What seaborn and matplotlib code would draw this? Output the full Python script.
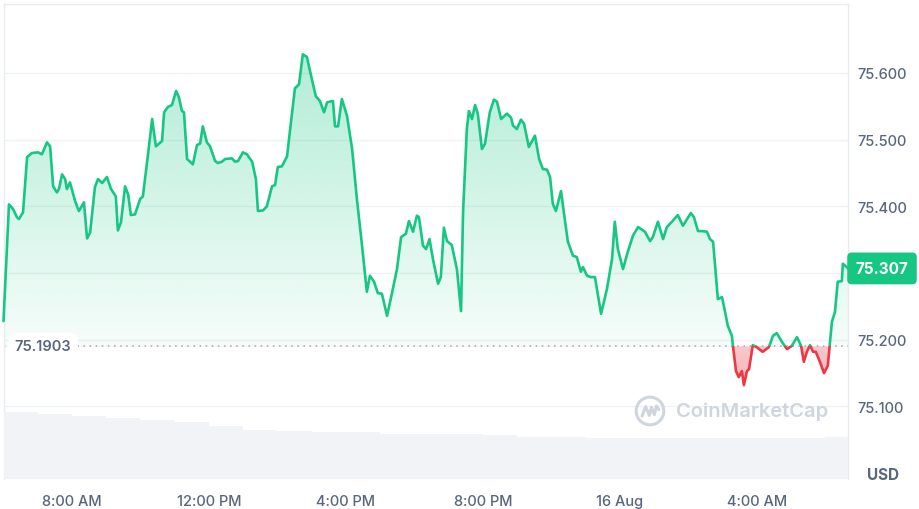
import numpy as np
import seaborn as sns
import matplotlib.pyplot as plt
import matplotlib.transforms as mtransforms
from matplotlib.patches import Polygon, Rectangle, Circle

# hours after 06:00 on 15 Aug
hours = [0.0, 0.16, 0.28, 0.39, 0.45, 0.57, 0.69, 0.83, 1.01, 1.12,
         1.27, 1.36, 1.45, 1.56, 1.62, 1.71, 1.80, 1.85, 1.94, 2.09,
         2.20, 2.35, 2.44, 2.53, 2.67, 2.76, 2.88, 3.02, 3.14, 3.28,
         3.34, 3.43, 3.55, 3.64, 3.72, 3.84, 3.99, 4.07, 4.22, 4.34,
         4.45, 4.63, 4.69, 4.80, 4.92, 5.04, 5.12, 5.21, 5.27, 5.36,
         5.53, 5.65, 5.74, 5.82, 5.94, 6.03, 6.18, 6.26, 6.38, 6.47,
         6.67, 6.76, 6.85, 6.99, 7.11, 7.26, 7.37, 7.43, 7.58, 7.69,
         7.84, 7.93, 8.01, 8.13, 8.28, 8.36, 8.51, 8.63, 8.74, 8.86,
         8.95, 9.12, 9.24, 9.36, 9.45, 9.62, 9.68, 9.77, 9.88, 10.03,
         10.18, 10.32, 10.47, 10.61, 10.70, 10.82, 10.93, 11.05, 11.20, 11.34,
         11.49, 11.61, 11.75, 11.84, 11.96, 12.07, 12.13, 12.25, 12.34, 12.44,
         12.54, 12.69, 12.77, 12.86, 12.95, 13.09, 13.24, 13.36, 13.42, 13.53,
         13.59, 13.68, 13.77, 13.85, 13.97, 14.06, 14.20, 14.32, 14.41, 14.53,
         14.70, 14.82, 14.88, 14.99, 15.11, 15.20, 15.34, 15.52, 15.64, 15.75,
         15.87, 15.96, 16.04, 16.13, 16.28, 16.36, 16.48, 16.63, 16.74, 16.86,
         16.92, 17.04, 17.15, 17.27, 17.45, 17.62, 17.77, 17.85, 17.94, 18.09,
         18.23, 18.38, 18.53, 18.73, 18.88, 18.96, 19.11, 19.26, 19.37, 19.52,
         19.69, 19.84, 19.96, 20.07, 20.16, 20.28, 20.39, 20.54, 20.63, 20.72,
         20.77, 20.86, 20.98, 21.07, 21.15, 21.27, 21.30, 21.39, 21.47, 21.56,
         21.62, 21.71, 21.77, 21.88, 21.99, 22.17, 22.35, 22.47, 22.58, 22.73,
         22.88, 23.02, 23.17, 23.29, 23.37, 23.46, 23.55, 23.64, 23.72, 23.84,
         23.96, 24.07, 24.19, 24.28, 24.36, 24.48, 24.51, 24.66]

prices = [75.228, 75.403, 75.396, 75.384, 75.381, 75.391, 75.474, 75.480, 75.481, 75.478,
          75.496, 75.490, 75.430, 75.421, 75.426, 75.448, 75.441, 75.426, 75.436, 75.408,
          75.393, 75.406, 75.352, 75.361, 75.429, 75.441, 75.435, 75.444, 75.426, 75.415,
          75.364, 75.376, 75.430, 75.418, 75.387, 75.388, 75.411, 75.415, 75.478, 75.531,
          75.490, 75.498, 75.541, 75.549, 75.552, 75.573, 75.564, 75.543, 75.541, 75.471,
          75.463, 75.492, 75.494, 75.520, 75.496, 75.490, 75.468, 75.465, 75.467, 75.471,
          75.472, 75.467, 75.468, 75.481, 75.478, 75.467, 75.441, 75.393, 75.394, 75.400,
          75.430, 75.432, 75.459, 75.460, 75.475, 75.511, 75.577, 75.583, 75.628, 75.624,
          75.603, 75.565, 75.558, 75.541, 75.556, 75.558, 75.520, 75.520, 75.561, 75.536,
          75.486, 75.411, 75.341, 75.272, 75.296, 75.287, 75.270, 75.269, 75.236, 75.269,
          75.306, 75.354, 75.359, 75.378, 75.362, 75.386, 75.384, 75.341, 75.336, 75.351,
          75.321, 75.284, 75.294, 75.368, 75.348, 75.342, 75.306, 75.243, 75.392, 75.516,
          75.543, 75.531, 75.552, 75.539, 75.486, 75.494, 75.541, 75.560, 75.557, 75.531,
          75.539, 75.533, 75.521, 75.516, 75.530, 75.524, 75.489, 75.506, 75.471, 75.456,
          75.455, 75.444, 75.404, 75.393, 75.423, 75.392, 75.347, 75.326, 75.324, 75.302,
          75.309, 75.296, 75.294, 75.294, 75.239, 75.276, 75.321, 75.377, 75.336, 75.306,
          75.332, 75.356, 75.369, 75.362, 75.348, 75.354, 75.377, 75.351, 75.369, 75.377,
          75.387, 75.371, 75.381, 75.390, 75.384, 75.363, 75.363, 75.362, 75.351, 75.347,
          75.317, 75.261, 75.264, 75.242, 75.221, 75.206, 75.191, 75.153, 75.144, 75.153,
          75.132, 75.153, 75.156, 75.192, 75.189, 75.182, 75.189, 75.206, 75.210, 75.197,
          75.186, 75.191, 75.204, 75.191, 75.167, 75.182, 75.192, 75.182, 75.182, 75.167,
          75.150, 75.161, 75.227, 75.242, 75.287, 75.288, 75.314, 75.307]

# hourly volume (relative units, 0-100 scale of the chart height)
vol_hours = list(range(25))
volumes = [14.1, 13.7, 13.3, 12.8, 12.4, 12.0, 11.2, 10.3, 10.1, 9.9,
           9.8, 9.5, 9.5, 9.5, 9.3, 8.8, 8.8, 8.6, 8.6, 8.6,
           8.6, 8.6, 8.6, 8.7, 8.8]

open_price = 75.1903
last_price = 75.307
y_ticks = [75.1, 75.2, 75.3, 75.4, 75.5, 75.6]
x_tick_hours = [2, 6, 10, 14, 18, 22]
x_tick_labels = ['8:00 AM', '12:00 PM', '4:00 PM', '8:00 PM', '16 Aug', '4:00 AM']

GREEN = '#16c784'
RED = '#ea3943'
GREY_TXT = '#58667e'

sns.set_theme(style='white')
plt.rcParams['font.family'] = ['Inter', 'DejaVu Sans']

fig = plt.figure(figsize=(9.19, 5.10), dpi=100)
ax = fig.add_axes([3.5 / 919, 30 / 510, 844.5 / 919, 475 / 510])

x_end = hours[-1]
y_lo, y_hi = 74.9913, 75.7034
hrs = np.array(hours)
px = np.array(prices)

# volume bars on a twin axis
ax2 = ax.twinx()
ax2.bar(vol_hours, volumes, width=1.0, align='edge', color='#f1f3f6', edgecolor='none')
ax2.set_ylim(0, 100)
ax2.set_yticks([])
for s in ax2.spines.values():
    s.set_visible(False)

# gradient fills clipped by the area between the line and the open price
area = Polygon(np.vstack([[hrs[0], open_price]] + [np.column_stack([hrs, px])] + [[x_end, open_price]]),
               closed=True, facecolor='none', edgecolor='none', transform=ax.transData)
ax.add_patch(area)

n = 256
g = np.zeros((n, 1, 4))
g[:, 0, :3] = np.array([22, 199, 132]) / 255
g[:, 0, 3] = np.linspace(0.04, 0.33, n)
im_g = ax.imshow(g, extent=(0, x_end, open_price, px.max()), origin='lower',
                 aspect='auto', interpolation='bilinear', zorder=1)
im_g.set_clip_path(area)

r = np.zeros((n, 1, 4))
r[:, 0, :3] = np.array([234, 57, 67]) / 255
r[:, 0, 3] = np.linspace(0.38, 0.28, n)
im_r = ax.imshow(r, extent=(0, x_end, px.min(), open_price), origin='lower',
                 aspect='auto', interpolation='bilinear', zorder=1)
im_r.set_clip_path(area)

# line: green above the open price, red below
sns.lineplot(x=hours, y=prices, color=GREEN, linewidth=1.9, ax=ax, zorder=3)
sns.lineplot(x=hours, y=prices, color=RED, linewidth=1.9, ax=ax, zorder=3)
up_clip = Rectangle((-1, open_price), 30, 5, transform=ax.transData)
dn_clip = Rectangle((-1, open_price - 5), 30, 5, transform=ax.transData)
ax.lines[-2].set_clip_path(up_clip)
ax.lines[-1].set_clip_path(dn_clip)

ax.axhline(open_price, color='#a1a7bb', linestyle=(0, (1, 3)), linewidth=1.1, zorder=2)

ax.set_xlim(0, x_end)
ax.set_ylim(y_lo, y_hi)
ax.set_xlabel('')
ax.set_ylabel('')

# the 75.300 label sits under the last price tag
ax.set_yticks(y_ticks)
ax.set_yticklabels(['' if abs(v - 75.3) < 1e-6 else f'{v:.3f}' for v in y_ticks])
ax.yaxis.tick_right()
ax.set_xticks(x_tick_hours)
ax.set_xticklabels(x_tick_labels)
ax.tick_params(axis='y', length=0, pad=7, labelsize=10.5, labelcolor=GREY_TXT)
ax.tick_params(axis='x', length=0, pad=11, labelsize=10.5, labelcolor=GREY_TXT)
for lab in ax.get_xticklabels() + ax.get_yticklabels():
    lab.set_fontweight('medium')
ax.grid(axis='y', color='#eff2f5', linewidth=1)
ax.grid(axis='x', visible=False)
ax.set_axisbelow(True)

for side in ['top', 'left', 'right']:
    ax.spines[side].set_color('#e8ebef')
    ax.spines[side].set_linewidth(1)
ax.spines['bottom'].set_visible(False)
ax.patch.set_alpha(0)

# open price label on the left
ax.text(0.33, open_price, '75.1903', fontsize=10.5, fontweight='semibold', color=GREY_TXT,
        va='center', ha='left', zorder=6,
        bbox=dict(boxstyle='round,pad=0.45,rounding_size=0.6', facecolor='white', edgecolor='none'))

# last price tag on the right
tag_tr = mtransforms.blended_transform_factory(fig.transFigure, ax.transData)
ax.text(882 / 919, last_price, '75.307', transform=tag_tr, fontsize=11, fontweight='bold',
        color='white', ha='center', va='center', zorder=10, clip_on=False,
        bbox=dict(boxstyle='round,pad=0.55,rounding_size=0.3', facecolor=GREEN, edgecolor='none'))

fig.text(883 / 919, 1 - 476 / 510, 'USD', fontsize=11, fontweight='bold', color=GREY_TXT,
         ha='center', va='center')

# watermark
wm = '#cfd5de'
fig.text(752 / 919, 1 - 412 / 510, 'CoinMarketCap', fontsize=14.5, fontweight='semibold',
         color=wm, ha='center', va='center')
lax = fig.add_axes([634 / 919, 1 - 428 / 510, 32 / 919, 32 / 510])
lax.set_xlim(-1.1, 1.1)
lax.set_ylim(-1.1, 1.1)
lax.set_aspect('equal')
lax.axis('off')
lax.add_patch(Circle((0, 0), 0.95, fill=False, edgecolor=wm, linewidth=2.2))
lax.plot([-0.55, -0.3, -0.05, 0.1, 0.3, 0.45, 0.6], [-0.35, 0.3, -0.3, 0.25, -0.25, 0.35, 0.1],
         color=wm, linewidth=2.2, solid_joinstyle='round')

fig.savefig('out.png', dpi=100)
